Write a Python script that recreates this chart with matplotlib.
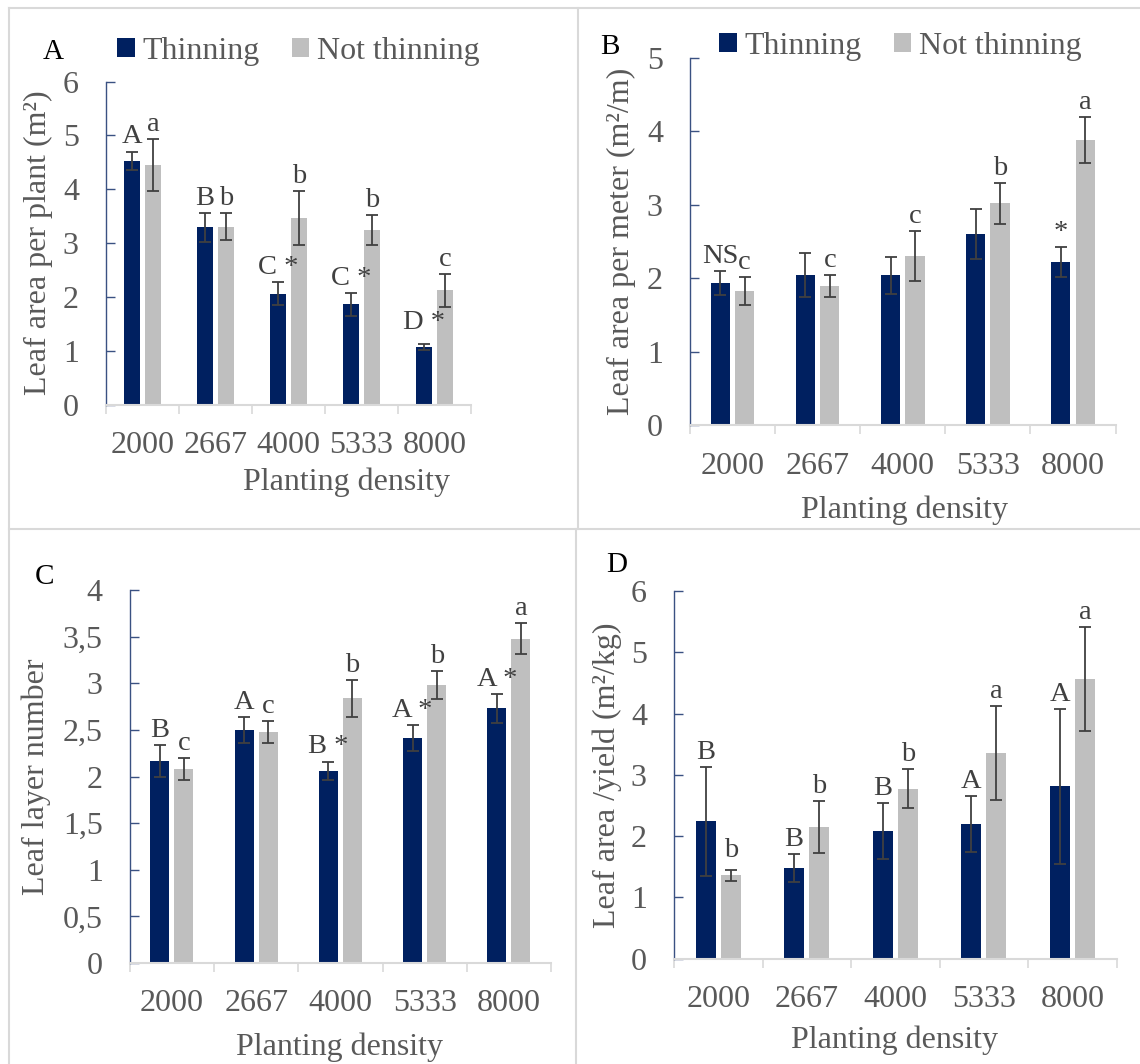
import matplotlib
matplotlib.use("Agg")
import matplotlib.pyplot as plt
import numpy as np
from matplotlib.lines import Line2D
from matplotlib.patches import Patch
from matplotlib.ticker import FuncFormatter

plt.rcParams["font.family"] = ["Liberation Serif", "DejaVu Serif"]

densities = ["2000", "2667", "4000", "5333", "8000"]

# panel A: leaf area per plant
a_thin = [4.53, 3.29, 2.06, 1.86, 1.07]
a_thin_err = [0.17, 0.27, 0.21, 0.22, 0.05]
a_not = [4.45, 3.30, 3.47, 3.24, 2.12]
a_not_err = [0.48, 0.25, 0.50, 0.28, 0.31]
a_thin_lab = ["A", "B", "C *", "C *", "D *"]
a_not_lab = ["a", "b", "b", "b", "c"]

# panel B: leaf area per meter
b_thin = [1.94, 2.04, 2.04, 2.60, 2.22]
b_thin_err = [0.16, 0.30, 0.25, 0.34, 0.20]
b_not = [1.83, 1.90, 2.30, 3.02, 3.88]
b_not_err = [0.19, 0.15, 0.34, 0.28, 0.31]
b_thin_lab = ["NS", "", "", "", "*"]
b_not_lab = ["c", "c", "c", "b", "a"]

# panel C: leaf layer number
c_thin = [2.17, 2.50, 2.06, 2.41, 2.73]
c_thin_err = [0.17, 0.14, 0.10, 0.14, 0.16]
c_not = [2.08, 2.48, 2.84, 2.98, 3.48]
c_not_err = [0.12, 0.12, 0.20, 0.15, 0.17]
c_thin_lab = ["B", "A", "B *", "A *", "A *"]
c_not_lab = ["c", "c", "b", "b", "a"]

# panel D: leaf area / yield
d_thin = [2.24, 1.48, 2.08, 2.20, 2.81]
d_thin_err = [0.89, 0.23, 0.46, 0.46, 1.27]
d_not = [1.36, 2.15, 2.77, 3.36, 4.57]
d_not_err = [0.09, 0.43, 0.32, 0.77, 0.85]
d_thin_lab = ["B", "B", "B", "A", "A"]
d_not_lab = ["b", "b", "b", "a", "a"]

DARK = "#002060"
GREY = "#BFBFBF"
TXT = "#595959"
ANN = "#404040"
AXBLUE = "#3A5182"
LIGHT = "#D9D9D9"

W, H = 1140, 1064
fig = plt.figure(figsize=(W / 100, H / 100), dpi=100)

bar_w = 0.226
off = 0.143


def draw_panel(rect, thin, thin_err, not_, not_err, thin_lab, not_lab,
               ymax, ystep, ylabel, ylab_x, xlab, letter, letter_xy, comma=False):
    l, t, r, b = rect
    ax = fig.add_axes([l / W, 1 - b / H, (r - l) / W, (b - t) / H])
    x = np.arange(len(densities))
    ax.bar(x - off, thin, bar_w, color=DARK, zorder=2)
    ax.bar(x + off, not_, bar_w, color=GREY, zorder=2)
    ekw = dict(fmt="none", ecolor=ANN, elinewidth=1.3, capsize=4.5, capthick=1.3, zorder=3)
    ax.errorbar(x - off, thin, yerr=thin_err, **ekw)
    ax.errorbar(x + off, not_, yerr=not_err, **ekw)

    # letters sit just above the error bar, or a fixed gap above the bar
    ppu = (b - t) / ymax
    for xs, vals, errs, labs in ((x - off, thin, thin_err, thin_lab),
                                 (x + off, not_, not_err, not_lab)):
        for xi, v, e, lab in zip(xs, vals, errs, labs):
            if not lab:
                continue
            y = max(v + e + 8 / ppu, v + 18 / ppu)
            ax.text(xi, y, lab, ha="center", va="baseline", fontsize=20.5, color=ANN)

    ax.set_xlim(-0.5, len(densities) - 0.5)
    ax.set_ylim(0, ymax)
    ax.set_xticks(x)
    ax.set_xticklabels(densities)
    ax.set_xticks(np.arange(-0.5, len(densities)), minor=True)
    ax.tick_params(axis="x", which="major", length=0, pad=19, labelsize=23, labelcolor=TXT)
    ax.tick_params(axis="x", which="minor", length=6.5, width=1.2, color=LIGHT, direction="out")
    ax.set_yticks(np.arange(0, ymax + ystep / 2, ystep))
    if comma:
        ax.yaxis.set_major_formatter(FuncFormatter(lambda v, p: f"{v:g}".replace(".", ",")))
    else:
        ax.yaxis.set_major_formatter(FuncFormatter(lambda v, p: f"{v:g}"))
    ax.tick_params(axis="y", direction="in", length=6.5, width=1.0, color=AXBLUE,
                   pad=19.5, labelsize=23, labelcolor=TXT)
    for s in ("top", "right"):
        ax.spines[s].set_visible(False)
    ax.spines["left"].set_color(AXBLUE)
    ax.spines["left"].set_linewidth(1.0)
    ax.spines["bottom"].set_color(LIGHT)
    ax.spines["bottom"].set_linewidth(1.5)

    ax.set_ylabel(ylabel, fontsize=23, color=TXT)
    ax.yaxis.label.set_va("center")
    ax.yaxis.set_label_coords(ylab_x, 0.5)
    ax.set_xlabel("Planting density", fontsize=23, color=TXT)
    ax.xaxis.label.set_va("center")
    ax.xaxis.set_label_coords(*xlab)

    fig.text(letter_xy[0] / W, 1 - letter_xy[1] / H, letter, fontsize=21,
             color="black", ha="center", va="center")
    return ax


draw_panel((106, 81.6, 471, 404.6), a_thin, a_thin_err, a_not, a_not_err,
           a_thin_lab, a_not_lab, 6, 1, "Leaf area per plant (m²)", -0.186,
           (0.66, -0.24), "A", (53, 52))
draw_panel((690, 57.9, 1115.5, 425.3), b_thin, b_thin_err, b_not, b_not_err,
           b_thin_lab, b_not_lab, 5, 1, "Leaf area per meter (m²/m)", -0.160,
           (0.503, -0.23), "B", (610, 46.5))
draw_panel((129.8, 590.1, 551, 963), c_thin, c_thin_err, c_not, c_not_err,
           c_thin_lab, c_not_lab, 4, 0.5, "Leaf layer number", -0.223,
           (0.497, -0.225), "C", (45, 577), comma=True)
draw_panel((674, 591, 1116.5, 958.6), d_thin, d_thin_err, d_not, d_not_err,
           d_thin_lab, d_not_lab, 6, 1, "Leaf area /yield (m²/kg)", -0.151,
           (0.499, -0.223), "D", (617, 565))

handles = [Patch(facecolor=DARK), Patch(facecolor=GREY)]
for cx, cy in ((298.5, 51), (900.5, 46.5)):
    fig.legend(handles, ["Thinning", "Not thinning"], loc="center",
               bbox_to_anchor=(cx / W, 1 - cy / H), ncol=2, frameon=False,
               fontsize=23, handlelength=0.55, handleheight=0.55,
               handletextpad=0.25, columnspacing=1.0, labelcolor=TXT,
               borderpad=0, borderaxespad=0)

# panel frame lines (table cell borders)
for (x0, y0, x1, y1) in ((9.4, 8.4, W, 8.4), (9.4, 8.4, 9.4, H),
                         (578.3, 8.4, 578.3, 529.3), (575.7, 529.3, 575.7, H),
                         (9.4, 529.3, W, 529.3)):
    fig.add_artist(Line2D([x0 / W, x1 / W], [1 - y0 / H, 1 - y1 / H],
                          transform=fig.transFigure, color=LIGHT, lw=1.5))

fig.savefig("out.png", dpi=100)
